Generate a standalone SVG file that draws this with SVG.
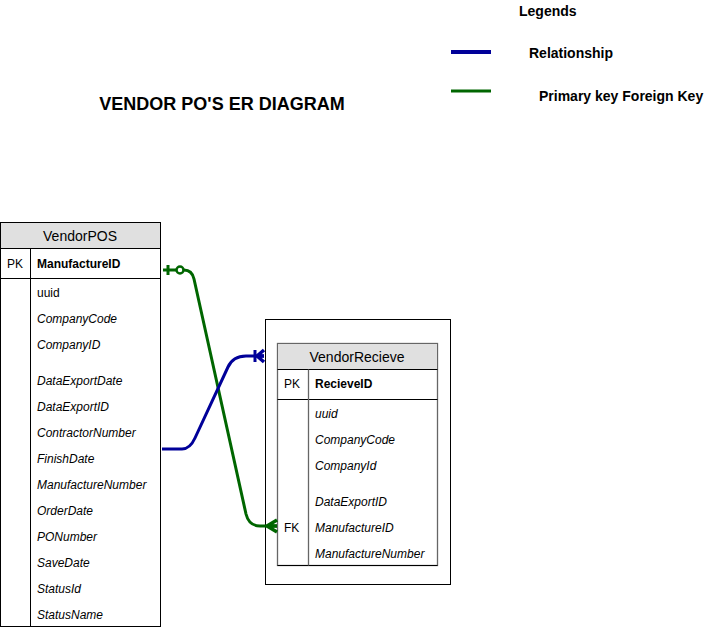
<svg xmlns="http://www.w3.org/2000/svg" width="718" height="629" viewBox="0 0 718 629">
<style>
text{font-family:"Liberation Sans",Arial,sans-serif;fill:#000}
.b{font-weight:bold}
.i{font-size:12px;font-style:italic}
.n{font-size:12px}
.h{font-size:14px;text-anchor:middle}
.lg{font-size:14px;font-weight:bold}
.tb{fill:#fff;stroke:#000;stroke-width:1}
.tb2{fill:#fff;stroke:#666;stroke-width:1.3}
.hd{fill:#e0e0e0}
.rel{fill:none;stroke:#000099;stroke-width:3;stroke-linejoin:round}
.fk{fill:none;stroke:#006600;stroke-width:3;stroke-linejoin:round}
</style>
<rect width="718" height="629" fill="#fff"/>
<g id="title"><text x="222" y="110" class="b" font-size="18" text-anchor="middle">VENDOR PO'S ER DIAGRAM</text></g>
<g id="legend">
<text x="519" y="16" class="lg">Legends</text>
<line x1="451" y1="52" x2="491" y2="52" stroke="#000099" stroke-width="4"/>
<text x="529" y="58" class="lg">Relationship</text>
<line x1="451" y1="91" x2="491" y2="91" stroke="#006600" stroke-width="3"/>
<text x="539" y="101" class="lg">Primary key Foreign Key</text>
</g>
<g id="VendorPOS">
<rect x="0.5" y="222.5" width="160" height="404" class="tb"/>
<rect x="1" y="223" width="159" height="25" class="hd"/>
<line x1="0.5" y1="248.5" x2="160.5" y2="248.5" stroke="#000"/>
<line x1="0.5" y1="278.5" x2="160.5" y2="278.5" stroke="#000"/>
<line x1="30.5" y1="248.5" x2="30.5" y2="626.5" stroke="#000"/>
<text x="80" y="241" class="h">VendorPOS</text>
<text x="7" y="268" class="n">PK</text>
<text x="37" y="268" class="n b">ManufactureID</text>
<text x="37" y="297" class="n">uuid</text>
<text x="37" y="323" class="i">CompanyCode</text>
<text x="37" y="349" class="i">CompanyID</text>
<text x="37" y="385" class="i">DataExportDate</text>
<text x="37" y="411" class="i">DataExportID</text>
<text x="37" y="437" class="i">ContractorNumber</text>
<text x="37" y="463" class="i">FinishDate</text>
<text x="37" y="489" class="i">ManufactureNumber</text>
<text x="37" y="515" class="i">OrderDate</text>
<text x="37" y="541" class="i">PONumber</text>
<text x="37" y="567" class="i">SaveDate</text>
<text x="37" y="593" class="i">StatusId</text>
<text x="37" y="619" class="i">StatusName</text>
</g>
<g id="VendorRecieveFrame">
<rect x="265.5" y="319.5" width="185" height="265" fill="#fff" stroke="#000"/>
</g>
<g id="VendorRecieve">
<rect x="277.5" y="343.5" width="160" height="222" class="tb2"/>
<rect x="278" y="344" width="159" height="25" class="hd"/>
<line x1="277.5" y1="369.5" x2="437.5" y2="369.5" stroke="#000"/>
<line x1="277.5" y1="399.5" x2="437.5" y2="399.5" stroke="#000"/>
<line x1="277.5" y1="565.5" x2="437.5" y2="565.5" stroke="#000"/>
<line x1="308.5" y1="369.5" x2="308.5" y2="565.5" stroke="#666" stroke-width="1.3"/>
<text x="357" y="362" class="h">VendorRecieve</text>
<text x="284" y="388" class="n">PK</text>
<text x="315" y="388" class="n b">RecieveID</text>
<text x="315" y="418" class="i">uuid</text>
<text x="315" y="444" class="i">CompanyCode</text>
<text x="315" y="470" class="i">CompanyId</text>
<text x="315" y="506" class="i">DataExportID</text>
<text x="284" y="532" class="n">FK</text>
<text x="315" y="532" class="i">ManufactureID</text>
<text x="315" y="558" class="i">ManufactureNumber</text>
</g>
<g id="connectors">
<path class="fk" d="M163 270 L184 270 Q192 270 194 279 L246 514 Q249 526 260 526 L277 526"/>
<line x1="168" y1="265" x2="168" y2="275" stroke="#006600" stroke-width="3"/>
<circle cx="180" cy="270" r="3.5" fill="#fff" stroke="#006600" stroke-width="2.5"/>
<path d="M267 526 L277 520 M267 526 L277 532 M267 526 L277 526" fill="none" stroke="#006600" stroke-width="3.5"/>
<path class="rel" d="M162 449 L182 449 Q190 449 195 438 L228 367 Q233 356 246 356 L264 356"/>
<line x1="255" y1="350" x2="255" y2="362" stroke="#000099" stroke-width="3"/>
<path d="M257 356 L264 350 M257 356 L264 362 M257 356 L264 356" fill="none" stroke="#000099" stroke-width="3.5"/>
</g>
</svg>
